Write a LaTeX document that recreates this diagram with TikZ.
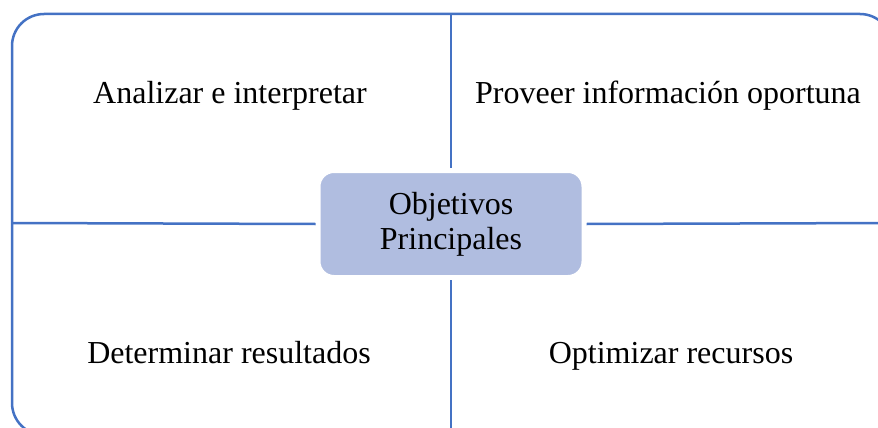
\documentclass[tikz,border=0pt]{standalone}
\usepackage{fontspec}
\setmainfont{Liberation Serif}
\usetikzlibrary{positioning}
\definecolor{frameblue}{HTML}{4472C4}
\definecolor{boxfill}{HTML}{B0BDE0}

\begin{document}
\begin{tikzpicture}[
        x=1pt, y=-1pt,
        every node/.append style={font=\fontsize{32}{34}\selectfont},
        frame/.style={draw=frameblue, line width=2.5pt},
        goal/.style={anchor=base, inner sep=0},
    ]
        \clip (0, 0) rectangle (878, 428);

        % Outer frame
        \draw [frame, rounded corners=32pt] (12, 14) rectangle (892, 435);

        \coordinate (top) at (451, 14);
        \coordinate (bottom) at (451, 435);
        \coordinate (left) at (12, 223);
        \coordinate (right) at (892, 223);

        \node [draw=white, line width=5pt, fill=boxfill, rounded corners=16pt,
               minimum width=266pt, minimum height=107pt, inner sep=0,
               align=center] (obj) at (451, 224)
              {\raisebox{1pt}{Objetivos}\\Principales};

        % Connect the frame to the centre
        \foreach \side/\anchor in {top/north, bottom/south, left/west, right/east}{%
          \draw [frame] (\side) -- (obj.\anchor);
        };

        \node [goal] (analizar) at (230, 103) {Analizar e interpretar};
        \node [goal] (proveer) at (668, 103) {Proveer información oportuna};
        \node [goal] (determinar) at (229, 363) {Determinar resultados};
        \node [goal] (optimizar) at (671, 363) {Optimizar recursos};
      \end{tikzpicture}
\end{document}
